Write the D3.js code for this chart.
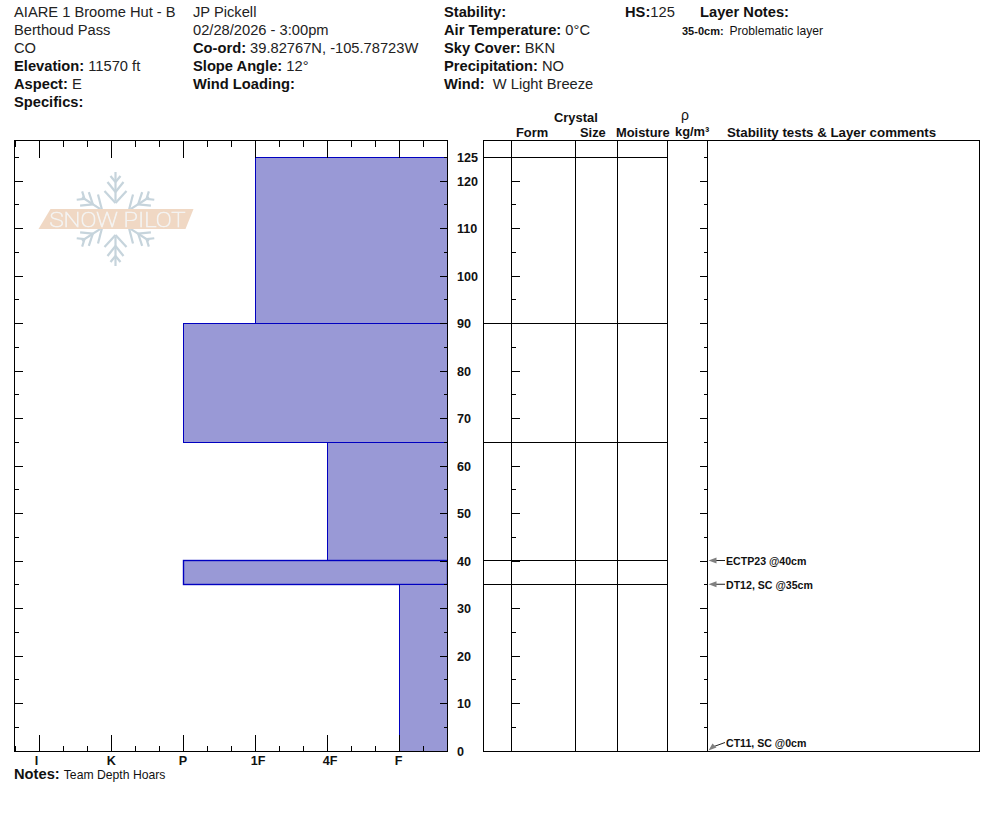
<!DOCTYPE html>
<html>
<head>
<meta charset="utf-8">
<script src="https://cdn.jsdelivr.net/npm/d3@7"></script>
<style>
  html, body { margin: 0; padding: 0; background: #fff; }
  svg { display: block; }
  text { font-family: "Liberation Sans", Arial, sans-serif; fill: #111; }
</style>
</head>
<body>
<svg id="profile" width="994" height="840"></svg>
<script>
// Snow layers, top of snowpack downwards (heights in cm above ground)
const layerTops = [125, 90, 65, 40, 35];
const layerBottoms = [90, 65, 40, 35, 0];
const layerHardness = ["1F", "P", "4F", "P", "F"];

const hardnessLabels = ["I", "K", "P", "1F", "4F", "F"];
const depthTickLabels = [125, 120, 110, 100, 90, 80, 70, 60, 50, 40, 30, 20, 10, 0];
const depthMinorTicks = [125, 115, 105, 95, 85, 75, 65, 55, 45, 35, 25, 15, 5];

const testDepths = [40, 35, 0];
const testLabels = ["ECTP23 @40cm", "DT12, SC @35cm", "CT11, SC @0cm"];

// Pit header: each row is [bold label, plain value]
const headerCol1 = [["", "AIARE 1 Broome Hut - B"], ["", "Berthoud Pass"], ["", "CO"], ["Elevation:", "11570 ft"], ["Aspect:", "E"], ["Specifics:", ""]];
const headerCol2 = [["", "JP Pickell"], ["", "02/28/2026 - 3:00pm"], ["Co-ord:", "39.82767N, -105.78723W"], ["Slope Angle:", "12°"], ["Wind Loading:", ""]];
const headerCol3 = [["Stability:", ""], ["Air Temperature:", "0°C"], ["Sky Cover:", "BKN"], ["Precipitation:", "NO"], ["Wind:", " W Light Breeze"]];

const columnHeads = ["Form", "Crystal", "Size", "Moisture", "kg/m³", "Stability tests & Layer comments"];
const columnHeadX = [516, 554, 580, 616, 675, 727];
const columnHeadY = [137, 122, 137, 137, 136, 137];

const svg = d3.select("#profile");

const y = d3.scaleLinear().domain([0, 125]).range([751, 157.25]);
const x = d3.scaleLinear().domain([-1 / 3, 17 / 3]).range([15, 447]);
const hardnessIndex = d3.scaleOrdinal().domain(hardnessLabels).range(d3.range(hardnessLabels.length));

const plotTop = 140.5, plotBottom = 751.5;
// Snaps a layer edge to the pixel grid; the ground stays on the frame
const edgeY = v => v >= 751 ? plotBottom : Math.floor(v - 0.2) + 0.5;
const edgeX = v => Math.round(v) + 0.5;

// Keeps the bars' outlines inside the chart frame
svg.append("clipPath").attr("id", "hardness-clip")
  .append("rect").attr("x", 0).attr("y", 0).attr("width", 447.5).attr("height", 840);

// Hardness bars run from the layer's hardness out to the right edge
svg.append("g").attr("clip-path", "url(#hardness-clip)").selectAll("rect")
  .data(d3.range(layerTops.length))
  .join("rect")
  .attr("x", i => edgeX(x(hardnessIndex(layerHardness[i]))))
  .attr("y", i => edgeY(y(layerTops[i])))
  .attr("width", i => 447.5 - edgeX(x(hardnessIndex(layerHardness[i]))))
  .attr("height", i => edgeY(y(layerBottoms[i])) - edgeY(y(layerTops[i])))
  .attr("fill", "#9999d6")
  .attr("stroke", "#0000c0")
  .attr("stroke-width", i => layerTops[i] - layerBottoms[i] <= 5 ? 1.4 : 1);

// Draws tick marks only, using a d3 axis with its domain line removed
function ticks(axis, transform) {
  const g = svg.append("g").attr("transform", transform).call(axis);
  g.select(".domain").remove();
  g.selectAll("text").remove();
  g.selectAll("line").attr("stroke", "#000").attr("shape-rendering", "crispEdges");
  return g;
}

const thirds = d3.range(-1, 18).map(k => k / 3);
const wholes = d3.range(0, 6);
const noLabel = a => a.tickFormat("").tickPadding(0);

ticks(noLabel(d3.axisBottom(x).tickValues(thirds).tickSize(6)), `translate(0,${plotTop})`);
ticks(noLabel(d3.axisBottom(x).tickValues(wholes).tickSize(17)), `translate(0,${plotTop})`);
ticks(noLabel(d3.axisTop(x).tickValues(thirds).tickSize(6)), `translate(0,${plotBottom})`);
ticks(noLabel(d3.axisTop(x).tickValues(wholes).tickSize(17)), `translate(0,${plotBottom})`);

const majors = depthTickLabels.filter(d => d % 10 === 0);

// Height ticks on both charts
[[14.5, 1], [447.5, -1], [511.5, 1], [707.5, -1]].forEach(([pos, dir]) => {
  const make = () => dir > 0 ? d3.axisRight(y) : d3.axisLeft(y);
  ticks(noLabel(make().tickValues(majors).tickSize(8)), `translate(${pos},-0.5)`);
  ticks(noLabel(make().tickValues(depthMinorTicks).tickSize(4)), `translate(${pos},-0.5)`);
});

// Frames
const frame = (x0, x1) => svg.append("rect")
  .attr("x", x0).attr("y", plotTop)
  .attr("width", x1 - x0).attr("height", plotBottom - plotTop)
  .attr("fill", "none").attr("stroke", "#000").attr("shape-rendering", "crispEdges");
frame(14.5, 447.5);
frame(483.5, 979.5);

// Column dividers in the layer table
const dividers = [511.5, 575.5, 617.5, 667.5, 707.5];
svg.append("g").selectAll("line").data(dividers).join("line")
  .attr("x1", d => d).attr("x2", d => d)
  .attr("y1", plotTop).attr("y2", plotBottom)
  .attr("stroke", "#000").attr("shape-rendering", "crispEdges");

// Layer boundaries across the table
svg.append("g").selectAll("line").data(layerTops).join("line")
  .attr("x1", 483.5).attr("x2", 667.5)
  .attr("y1", d => edgeY(y(d))).attr("y2", d => edgeY(y(d)))
  .attr("stroke", "#000").attr("shape-rendering", "crispEdges");

// Height labels between the charts
svg.append("g").selectAll("text").data(depthTickLabels).join("text")
  .attr("x", 457).attr("y", d => y(d) + 4.5)
  .attr("font-size", 12.6).attr("font-weight", "bold")
  .text(d => d);

// Hardness labels along the bottom
svg.append("g").selectAll("text").data(hardnessLabels).join("text")
  .attr("x", d => x(hardnessIndex(d)) - 4.3).attr("y", 764.5)
  .attr("font-size", 12.6).attr("font-weight", "bold")
  .text(d => d);

// Header blocks
function headerBlock(rows, left) {
  const g = svg.append("g");
  rows.forEach((row, i) => {
    const t = g.append("text").attr("x", left).attr("y", 17 + i * 18).attr("font-size", 14.7);
    if (row[0]) t.append("tspan").attr("font-weight", "bold").text(row[0] + " ");
    if (row[1]) t.append("tspan").attr("fill", "#222").attr("xml:space", "preserve").text(row[1]);
  });
}
headerBlock(headerCol1, 14);
headerBlock(headerCol2, 193);
headerBlock(headerCol3, 444);

const hs = svg.append("text").attr("x", 625).attr("y", 17).attr("font-size", 14.7);
hs.append("tspan").attr("font-weight", "bold").text("HS:");
hs.append("tspan").attr("fill", "#222").text("125");
svg.append("text").attr("x", 700).attr("y", 17).attr("font-size", 14.7).attr("font-weight", "bold").text("Layer Notes:");
svg.append("text").attr("x", 682).attr("y", 35).attr("font-size", 11).attr("font-weight", "bold").text("35-0cm:");
svg.append("text").attr("x", 729.5).attr("y", 35).attr("font-size", 12.1).text("Problematic layer");

// Notes under the hardness axis
const notes = svg.append("text").attr("x", 14).attr("y", 779);
notes.append("tspan").attr("font-weight", "bold").attr("font-size", 14.7).text("Notes: ");
notes.append("tspan").attr("font-size", 12.2).text("Team Depth Hoars");

// Column headings
svg.append("g").selectAll("text").data(columnHeads).join("text")
  .attr("x", (d, i) => columnHeadX[i]).attr("y", (d, i) => columnHeadY[i])
  .attr("font-size", (d, i) => i === 5 ? 13.3 : 12.9).attr("font-weight", "bold")
  .text(d => d);
svg.append("text").attr("x", 681).attr("y", 120).attr("font-size", 14).text("ρ");

// Stability test callouts with arrows pointing at the depth they sit on
const tests = svg.append("g");
testDepths.forEach((d, i) => {
  const yTarget = y(d) - 0.5;
  const onGround = d === 0;
  const yLabel = onGround ? yTarget - 8 : yTarget;
  tests.append("line").attr("x1", 725).attr("x2", 714)
    .attr("y1", yLabel).attr("y2", onGround ? yTarget - 4 : yTarget)
    .attr("stroke", "#222").attr("stroke-width", 1);
  const tipX = 708.5;
  const head = onGround
    ? [[tipX, yTarget], [tipX + 8, yTarget - 3], [tipX + 4, yTarget - 7]]
    : [[tipX, yTarget], [tipX + 8, yTarget - 3], [tipX + 8, yTarget + 3]];
  tests.append("path").attr("d", d3.line()(head) + "Z").attr("fill", "#808080");
  tests.append("text").attr("x", 726).attr("y", y(d) + (onGround ? -4.5 : 4))
    .attr("font-size", 10.6).attr("font-weight", "bold").text(testLabels[i]);
});

// Snow Pilot watermark: snowflake behind a peach banner
const logo = svg.append("g").attr("transform", "translate(115.5,219)").style("filter", "blur(0.4px)");
const flake = logo.append("g").attr("stroke", "#c6d4dc").attr("stroke-width", 2.2).attr("fill", "none");
[0, 57, 123, 180, 237, 303].forEach(a => {
  const arm = flake.append("g").attr("transform", `rotate(${a})`);
  const len = a % 180 === 0 ? 47 : 40;
  arm.append("line").attr("x1", 0).attr("y1", -18).attr("x2", 0).attr("y2", -len);
  [-1, 1].forEach(s => {
    arm.append("line").attr("x1", 0).attr("y1", -16).attr("x2", s * 11).attr("y2", -28);
    arm.append("line").attr("x1", 0).attr("y1", -27).attr("x2", s * 8).attr("y2", -37);
    arm.append("line").attr("x1", 0).attr("y1", -37).attr("x2", s * 5).attr("y2", -43);
  });
});
logo.append("path")
  .attr("d", d3.line()([[-77, 10], [-65, -10], [78, -10], [70, 10]]) + "Z")
  .attr("fill", "#f0d8c4");
logo.append("text").attr("x", -66).attr("y", 8)
  .attr("font-size", 21).attr("textLength", 136).attr("lengthAdjust", "spacingAndGlyphs")
  .style("font-family", "Roboto, 'Liberation Sans', sans-serif").style("font-weight", 100)
  .style("fill", "#f4f3f1").style("stroke", "#f4f3f1").style("stroke-width", 0.7)
  .text("SNOW PILOT");
</script>
</body>
</html>
